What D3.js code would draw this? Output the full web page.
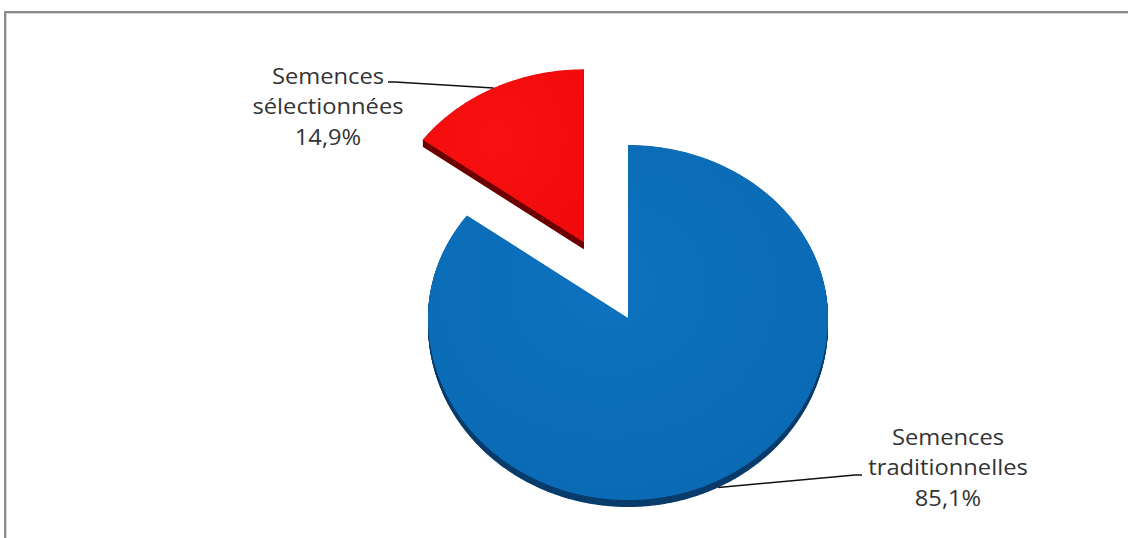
<!DOCTYPE html>
<html>
<head>
<meta charset="utf-8">
<script src="https://cdn.jsdelivr.net/npm/d3@7"></script>
<style>
  html, body { margin: 0; padding: 0; background: #fff; }
  svg { display: block; }
  text { font-family: "Open Sans", "DejaVu Sans", sans-serif; fill: #333; }
</style>
</head>
<body>
<svg id="chart" width="1128" height="538"></svg>
<script>
// Seed types and their shares (%)
const categories = ["Semences traditionnelles", "Semences sélectionnées"];
const values = [85.1, 14.9];
const valueLabels = ["85,1%", "14,9%"];
const labelLines = [["Semences", "traditionnelles"], ["Semences", "sélectionnées"]];

const topColors = [["#0d72bf", "#0a69b3"], ["#f91111", "#f00a0a"]];
const sideColors = ["#0a3d6c", "#6e0202"];
const explode = [0, 0.49];

const svg = d3.select("#chart");
const W = 1128, H = 538;

// frame
svg.append("rect").attr("x", 5).attr("y", 12).attr("width", W + 20).attr("height", H + 20)
  .attr("fill", "none").attr("stroke", "#8a8a8a").attr("stroke-width", 2);
svg.append("rect").attr("x", 6.5).attr("y", 13.5).attr("width", W + 20).attr("height", H + 20)
  .attr("fill", "none").attr("stroke", "#d6d6d6").attr("stroke-width", 1);

// tilted pie geometry
const cx = 628, cy = 318, rx = 200, rTop = 173, rBot = 182, depth = 7;
function proj(a, r, ox, oy) {
  const s = Math.sin(a), c = Math.cos(a);
  return [ox + rx * r * s, oy - (c > 0 ? rTop : rBot) * r * c];
}

const pie = d3.pie().sort(null).value(d => d);
const arcs = pie(values);
const line = d3.line();

const defs = svg.append("defs");
topColors.forEach((c, i) => {
  const g = defs.append("radialGradient").attr("id", "top" + i)
    .attr("cx", "45%").attr("cy", "40%").attr("r", "70%");
  g.append("stop").attr("offset", "0%").attr("stop-color", c[0]);
  g.append("stop").attr("offset", "100%").attr("stop-color", c[1]);
});

const slices = arcs.map((a, i) => {
  const mid = (a.startAngle + a.endAngle) / 2;
  const off = proj(mid, explode[i], 0, 0);
  const ox = cx + off[0], oy = cy + off[1];
  const pts = [[ox, oy]];
  const n = Math.max(8, Math.ceil((a.endAngle - a.startAngle) / (Math.PI / 360)));
  for (let k = 0; k <= n; k++) {
    const t = a.startAngle + (a.endAngle - a.startAngle) * k / n;
    pts.push(proj(t, 1, ox, oy));
  }
  return { a, i, mid, ox, oy, pts };
});

const g = svg.append("g");
slices.forEach(s => {
  // extruded side: swept copies of the face
  const side = g.append("g");
  for (let d = depth; d > 0; d -= 0.5) {
    side.append("path")
      .attr("d", line(s.pts.map(p => [p[0], p[1] + d])) + "Z")
      .attr("fill", sideColors[s.i]);
  }
  g.append("path").attr("d", line(s.pts) + "Z").attr("fill", `url(#top${s.i})`);
});

// labels with leader lines
const labelPos = [
  { x: 948, y: 445, lead: [862, 475] },
  { x: 328, y: 84, lead: [388, 82] }
];
slices.forEach(s => {
  const lp = labelPos[s.i];
  const anchor = proj(s.mid, 1, s.ox, s.oy);
  if (Math.cos(s.mid) < 0) anchor[1] += depth;
  const dir = anchor[0] > lp.lead[0] ? 1 : -1;
  svg.append("path")
    .attr("d", line([lp.lead, [lp.lead[0] + dir * 7, lp.lead[1]], anchor]))
    .attr("fill", "none").attr("stroke", "#111").attr("stroke-width", 1.5);

  const lines = labelLines[s.i].concat([valueLabels[s.i]]);
  const t = svg.append("g").attr("transform", `translate(${lp.x},${lp.y}) scale(1.13,1)`);
  lines.forEach((txt, k) => {
    t.append("text").attr("x", 0).attr("y", k * 30.5)
      .attr("text-anchor", "middle").attr("font-size", 21).text(txt);
  });
});
</script>
</body>
</html>
